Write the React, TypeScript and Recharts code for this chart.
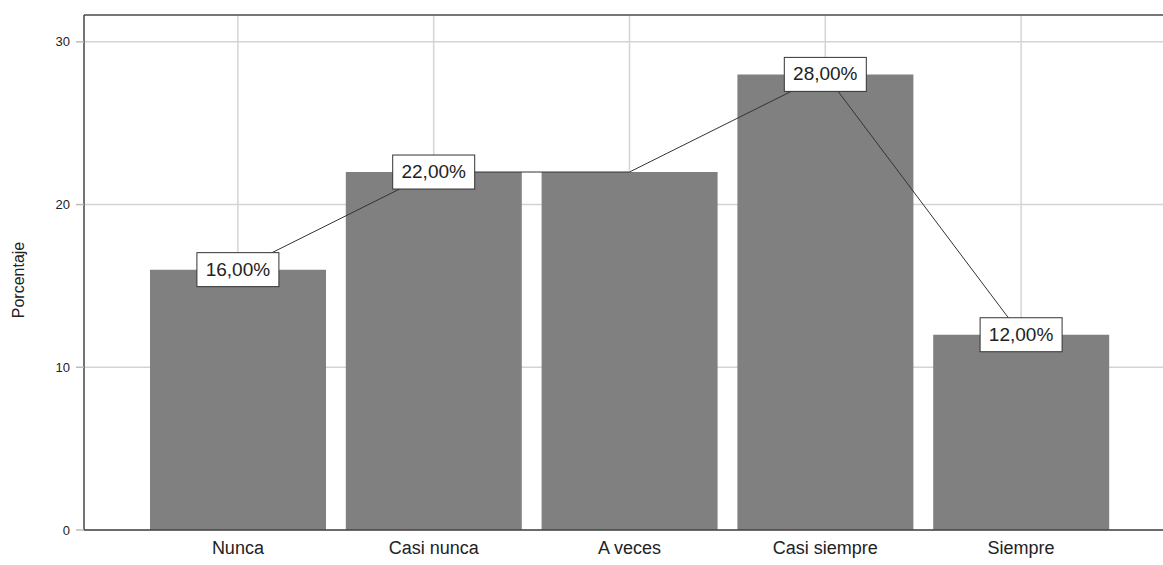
import React from 'react';
import {
  ComposedChart,
  Bar,
  Line,
  XAxis,
  YAxis,
  CartesianGrid,
  LabelList,
} from 'recharts';

const categories = ['Nunca', 'Casi nunca', 'A veces', 'Casi siempre', 'Siempre'];
const percentages = [16, 22, 22, 28, 12];
const showLabel = [true, true, false, true, true];
const yTicks = [0, 10, 20, 30];
const yMax = 31.65;

const data = categories.map((name, i) => ({
  name,
  value: percentages[i],
}));

const FONT = '"Liberation Sans", Arial, sans-serif';
const PAD = 56;

// formato español: coma decimal
const fmt = (v: number) => v.toFixed(2).replace('.', ',') + '%';

const BoxLabel = (props: any) => {
  const { x, y, value, index } = props;
  if (!showLabel[index]) return null;
  const w = 82;
  const h = 34;
  return (
    <g>
      <rect x={x - w / 2} y={y - h / 2} width={w} height={h} fill="#fff" stroke="#333" strokeWidth={1} />
      <text
        x={x}
        y={y + 1}
        textAnchor="middle"
        dominantBaseline="middle"
        fontSize={19}
        fontFamily={FONT}
        fill="#222"
      >
        {fmt(value)}
      </text>
    </g>
  );
};

const YTitle = () => (
  <text
    x={24}
    y={280}
    transform="rotate(-90 24 280)"
    textAnchor="middle"
    fontSize={16}
    fontFamily='"Liberation Sans Narrow", "Arial Narrow", "Liberation Sans", sans-serif'
    fill="#222"
  >
    Porcentaje
  </text>
);

// líneas verticales en el centro de cada categoría
const verticalAtCenters = ({ offset }: any) => {
  const left = offset.left + PAD;
  const band = (offset.width - 2 * PAD) / categories.length;
  return categories.map((_, i) => left + band * (i + 0.5));
};

// borde superior del área de trazado
const topBorder = ({ offset }: any) => [offset.top];

export default function App() {
  // el área de trazado sigue más allá del borde derecho, como en el original
  return (
    <div style={{ position: 'absolute', left: 0, top: 0, width: 1163, height: 565, overflow: 'hidden', background: '#fff' }}>
      <ComposedChart
        width={1175}
        height={565}
        data={data}
        margin={{ top: 15, right: 0, bottom: 0, left: 0 }}
        barCategoryGap={10}
      >
        <CartesianGrid
          stroke="#d4d4d4"
          strokeWidth={1.5}
          verticalCoordinatesGenerator={verticalAtCenters}
        />
        <CartesianGrid
          stroke="#555"
          strokeWidth={1.5}
          vertical={false}
          horizontalCoordinatesGenerator={topBorder}
        />
        <XAxis
          dataKey="name"
          padding={{ left: PAD, right: PAD }}
          height={35}
          tickLine={false}
          tickSize={0}
          tickMargin={11}
          axisLine={{ stroke: '#444', strokeWidth: 1.5 }}
          tick={{ fontSize: 18, fill: '#222', fontFamily: FONT }}
        />
        <YAxis
          width={84}
          domain={[0, yMax]}
          ticks={yTicks}
          interval={0}
          tickSize={8}
          tickMargin={6}
          tickLine={{ stroke: '#bbb', strokeWidth: 1.5 }}
          axisLine={{ stroke: '#444', strokeWidth: 1.5 }}
          tick={{ fontSize: 13, fill: '#222', fontFamily: FONT }}
          label={<YTitle />}
        />
        <Bar dataKey="value" fill="#808080" isAnimationActive={false} />
        <Line
          dataKey="value"
          stroke="#333"
          strokeWidth={1}
          dot={false}
          activeDot={false}
          isAnimationActive={false}
        >
          <LabelList dataKey="value" content={<BoxLabel />} />
        </Line>
      </ComposedChart>
    </div>
  );
}
